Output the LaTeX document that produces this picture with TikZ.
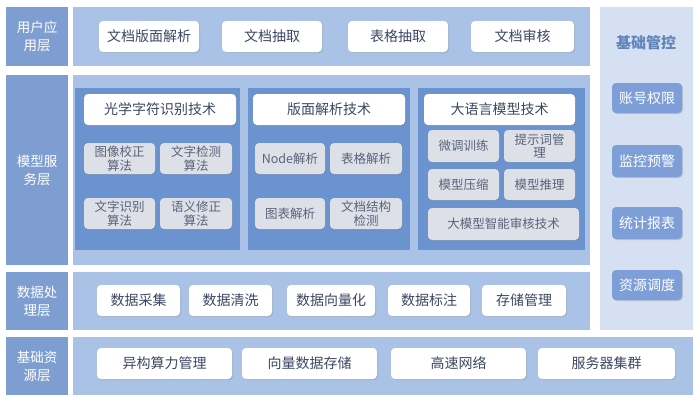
\documentclass[tikz,border=0pt]{standalone}
\usepackage{fontspec}
\newfontfamily\cjk{Noto Sans CJK SC}
\usetikzlibrary{shadows}
\definecolor{lab}{HTML}{7E9ED2}
\definecolor{pan}{HTML}{A9C2E6}
\definecolor{inn}{HTML}{6B93D0}
\definecolor{rcol}{HTML}{D5E1F2}
\definecolor{gbox}{HTML}{DDE0E7}
\definecolor{txt}{HTML}{3C4763}
\definecolor{rbox}{HTML}{7E9ED8}
\tikzset{
 lbl/.style={fill=lab,text=white,font=\cjk\fontsize{13.5}{18}\selectfont,align=center},
 wbox/.style={fill=white,rounded corners=4pt,text=txt,font=\cjk\fontsize{14}{16}\selectfont,align=center,drop shadow={shadow xshift=1pt,shadow yshift=-1pt,opacity=.3}},
 gb/.style={fill=gbox,rounded corners=4pt,text=txt!85,font=\cjk\fontsize{12.5}{13.5}\selectfont,align=center,drop shadow={shadow xshift=1pt,shadow yshift=-1pt,opacity=.3}},
 rb/.style={fill=rbox,rounded corners=4pt,text=white,font=\cjk\fontsize{14}{16}\selectfont,drop shadow={shadow xshift=1pt,shadow yshift=-1pt,opacity=.3}},
}
\newcommand{\bx}[6]{\node[#1,minimum width=#4-#3,minimum height=#6-#5,inner sep=0pt] (#2) at ({(#3+#4)/2},{(#5+#6)/2}) {};}
\newcommand{\tb}[7]{\node[#1,minimum width=#4-#3,minimum height=#6-#5,inner sep=0pt] (#2) at ({(#3+#4)/2},{(#5+#6)/2}) {#7};}
\begin{document}
\begin{tikzpicture}[x=1pt,y=-1pt]
\useasboundingbox[fill=white] (0,0) rectangle (700,400);
% labels
\tb{lbl}{l1}{6}{68}{7}{66}{用户应\\用层}
\tb{lbl}{l2}{6}{68}{75}{265}{模型服\\务层}
\tb{lbl}{l3}{6}{68}{272}{330}{数据处\\理层}
\tb{lbl}{l4}{6}{68}{337}{395}{基础资\\源层}
% panels
\bx{fill=pan}{p1}{73}{590}{7}{66}
\bx{fill=pan}{p2}{73}{590}{75}{265}
\bx{fill=pan}{p3}{73}{590}{272}{330}
\bx{fill=pan}{p4}{73}{693}{337}{395}
\bx{fill=rcol}{pr}{600}{693}{7}{330}
% user
\tb{wbox}{u1}{99}{199}{21}{52}{文档版面解析}
\tb{wbox}{u2}{222}{322}{21}{52}{文档抽取}
\tb{wbox}{u3}{348}{448}{21}{52}{表格抽取}
\tb{wbox}{u4}{471}{574}{21}{52}{文档审核}
% model inner
\bx{fill=inn}{ia}{75}{240}{88}{250}
\bx{fill=inn}{ib}{248}{410}{88}{250}
\bx{fill=inn}{ic}{418}{585}{88}{250}
\tb{wbox}{ha}{84}{236}{94}{125}{光学字符识别技术}
\tb{wbox}{hb}{253}{405}{94}{125}{版面解析技术}
\tb{wbox}{hc}{424}{575}{94}{125}{大语言模型技术}
\tb{gb}{a1}{84}{155}{143}{174}{图像校正\\算法}
\tb{gb}{a2}{160}{232}{143}{174}{文字检测\\算法}
\tb{gb}{a3}{84}{155}{198}{229}{文字识别\\算法}
\tb{gb}{a4}{160}{232}{198}{229}{语义修正\\算法}
\tb{gb}{b1}{255}{325}{143}{174}{Node解析}
\tb{gb}{b2}{330}{402}{143}{174}{表格解析}
\tb{gb}{b3}{255}{325}{198}{229}{图表解析}
\tb{gb}{b4}{330}{402}{198}{229}{文档结构\\检测}
\tb{gb}{c1}{428}{499}{130}{162}{微调训练}
\tb{gb}{c2}{504}{575}{130}{162}{提示词管\\理}
\tb{gb}{c3}{428}{499}{169}{200}{模型压缩}
\tb{gb}{c4}{504}{575}{169}{200}{模型推理}
\tb{gb}{c5}{428}{579}{208}{240}{大模型智能审核技术}
% data
\tb{wbox}{d1}{97}{180}{285}{316}{数据采集}
\tb{wbox}{d2}{189}{272}{285}{316}{数据清洗}
\tb{wbox}{d3}{287}{375}{285}{316}{数据向量化}
\tb{wbox}{d4}{388}{470}{285}{316}{数据标注}
\tb{wbox}{d5}{482}{566}{285}{316}{存储管理}
% base
\tb{wbox}{e1}{97}{232}{348}{379}{异构算力管理}
\tb{wbox}{e2}{242}{377}{348}{379}{向量数据存储}
\tb{wbox}{e3}{391}{526}{348}{379}{高速网络}
\tb{wbox}{e4}{538}{675}{348}{379}{服务器集群}
% right
\node[text=inn!90!black,font=\cjk\fontsize{15}{17}\selectfont\bfseries] (rt) at (646,43) {基础管控};
\tb{rb}{r1}{612}{682}{83}{113}{账号权限}
\tb{rb}{r2}{612}{682}{145}{177}{监控预警}
\tb{rb}{r3}{612}{682}{207}{239}{统计报表}
\tb{rb}{r4}{612}{682}{270}{300}{资源调度}
\end{tikzpicture}
\end{document}
